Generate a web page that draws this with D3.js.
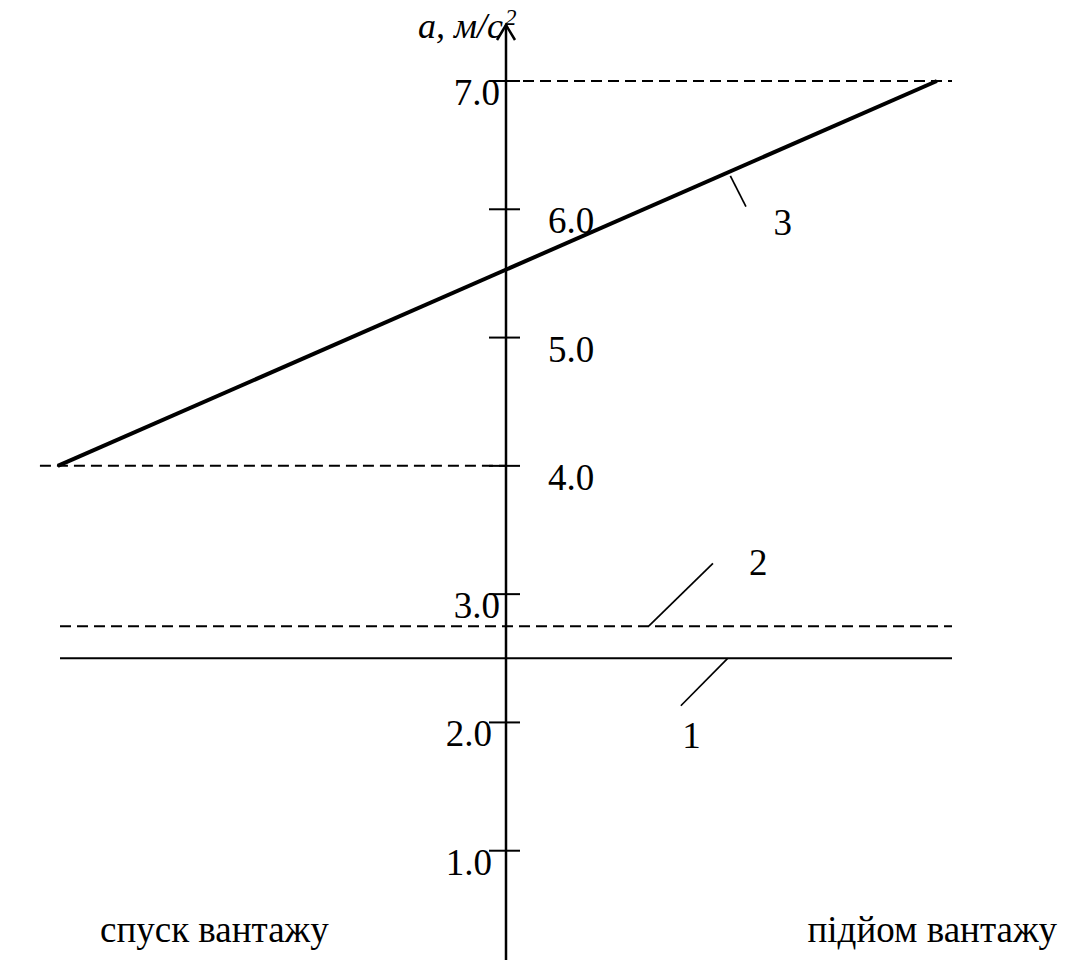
<!DOCTYPE html>
<meta charset="utf-8">
<style>
    body { margin: 0; background: #fff; }
    text { font-family: 'Liberation Serif', 'Times New Roman', serif; fill: #000; }
    .tick-label, .side-label, .curve-label { font-size: 37px; }
    .axis-title { font-size: 36px; font-style: italic; }
</style>
<svg width="1069" height="960"></svg>
<script src="https://d3js.org/d3.v7.min.js"></script>
<script>

    // y-axis ticks
    var tickValues = [1, 2, 3, 4, 5, 6, 7];
    var tickLabels = ["1.0", "2.0", "3.0", "4.0", "5.0", "6.0", "7.0"];
    var tickSide = ["left", "left", "left", "right", "right", "right", "left"];

    // curve 1 (solid) and curve 2 (dashed): constant
    var line1X = [-1, 1], line1Y = [2.5, 2.5];
    var line2X = [-1, 1], line2Y = [2.75, 2.75];
    // curve 3 (thick)
    var line3X = [-1.005, 0.966], line3Y = [4.0, 7.0];
    // guide dashes at the ends of curve 3
    var guideTopX = [0, 1.0], guideTopY = [7.0, 7.0];
    var guideBotX = [-1.045, 0], guideBotY = [4.0, 4.0];

    var curveNames = ["1", "2", "3"];
    var sideLabels = ["спуск вантажу", "підйом вантажу"];

    var svg = d3.select("svg");

    var x = d3.scaleLinear().domain([-1, 1]).range([60, 952]);
    var y = d3.scaleLinear().domain([0, 7]).range([979, 81]);

    function seg(xs, ys) {
        return d3.line().x(function(d) { return x(d[0]); }).y(function(d) { return y(d[1]); })(d3.zip(xs, ys));
    }

    // guide dashes
    svg.append("path").attr("d", seg(guideTopX, guideTopY))
        .attr("stroke", "#000").attr("stroke-width", 2).attr("stroke-dasharray", "11,6").attr("fill", "none");
    svg.append("path").attr("d", seg(guideBotX, guideBotY))
        .attr("stroke", "#000").attr("stroke-width", 2).attr("stroke-dasharray", "11,6").attr("fill", "none");

    // curves
    svg.append("path").attr("d", seg(line1X, line1Y))
        .attr("stroke", "#000").attr("stroke-width", 2).attr("fill", "none");
    svg.append("path").attr("d", seg(line2X, line2Y))
        .attr("stroke", "#000").attr("stroke-width", 2).attr("stroke-dasharray", "11,6").attr("fill", "none");
    svg.append("path").attr("d", seg(line3X, line3Y))
        .attr("stroke", "#000").attr("stroke-width", 4).attr("fill", "none");

    // vertical axis
    var x0 = x(0);
    svg.append("line").attr("x1", x0).attr("x2", x0).attr("y1", 960).attr("y2", 25)
        .attr("stroke", "#000").attr("stroke-width", 2.5);
    svg.append("path").attr("d", "M" + (x0 - 9) + ",40L" + x0 + ",25L" + (x0 + 9) + ",40")
        .attr("stroke", "#000").attr("stroke-width", 2.5).attr("fill", "none");

    var title = svg.append("text").attr("class", "axis-title")
        .attr("x", 418).attr("y", 38);
    title.append("tspan").text("a, м/с");
    title.append("tspan").attr("dy", -13).attr("dx", 2).style("font-size", "23px").text("2");

    // ticks
    var ticks = svg.selectAll(".ytick").data(tickValues).enter().append("g").attr("class", "ytick");
    ticks.append("line")
        .attr("x1", x0 - 17).attr("x2", x0 + 14)
        .attr("y1", function(d) { return y(d); }).attr("y2", function(d) { return y(d); })
        .attr("stroke", "#000").attr("stroke-width", 2);
    ticks.append("text").attr("class", "tick-label")
        .attr("x", function(d, i) { return tickSide[i] === "left" ? x0 - (d < 2.5 ? 14 : 6) : x0 + 42; })
        .attr("y", function(d) { return y(d) + 24; })
        .attr("text-anchor", function(d, i) { return tickSide[i] === "left" ? "end" : "start"; })
        .text(function(d, i) { return tickLabels[i]; });

    // leaders and curve numbers
    var leaders = [
        { x1: 0.497, v1: 2.5, x2: 0.392, v2: 2.13 },
        { x1: 0.32, v1: 2.75, x2: 0.464, v2: 3.24 },
        { x1: 0.503, v1: 6.26, x2: 0.538, v2: 6.02 }
    ];
    svg.selectAll(".leader").data(leaders).enter().append("line").attr("class", "leader")
        .attr("x1", function(d) { return x(d.x1); }).attr("y1", function(d) { return y(d.v1); })
        .attr("x2", function(d) { return x(d.x2); }).attr("y2", function(d) { return y(d.v2); })
        .attr("stroke", "#000").attr("stroke-width", 1.7);

    var curveLabelPos = [[0.395, 1.8], [0.545, 3.15], [0.6, 5.8]];
    svg.selectAll(".curve-label").data(curveNames).enter().append("text").attr("class", "curve-label")
        .attr("x", function(d, i) { return x(curveLabelPos[i][0]); })
        .attr("y", function(d, i) { return y(curveLabelPos[i][1]); })
        .text(function(d) { return d; });

    // bottom labels
    svg.append("text").attr("class", "side-label").attr("x", 100).attr("y", 942).text(sideLabels[0]);
    svg.append("text").attr("class", "side-label").attr("x", 1057).attr("y", 942)
        .attr("text-anchor", "end").text(sideLabels[1]);

</script>
